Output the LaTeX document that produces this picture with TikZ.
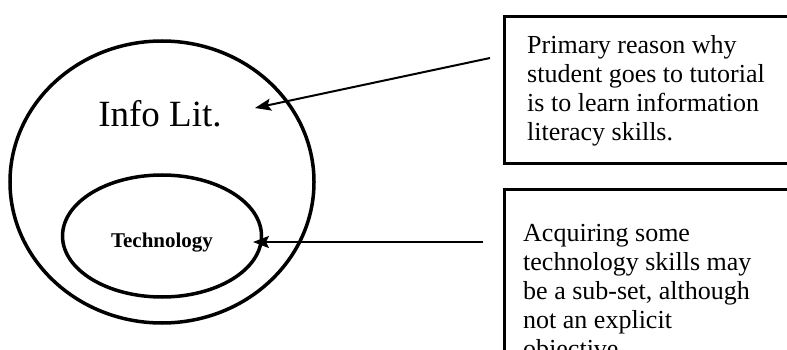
\documentclass[tikz,border=0pt]{standalone}
\usepackage{fontspec}
\setmainfont{Liberation Serif}
\usetikzlibrary{arrows.meta,positioning,shapes.geometric}

\begin{document}
\begin{tikzpicture}[x=1pt,y=-1pt,
  setline/.style={ellipse,draw,line width=3.5pt,inner sep=0pt},
  notebox/.style={rectangle,draw,line width=3pt,anchor=north west,inner sep=0pt},
  notetxt/.style={font=\fontsize{26}{29}\selectfont,align=left,
                  anchor=north west,inner sep=0pt},
  pointer/.style={-{Stealth[length=16pt,width=12pt,inset=3pt]},line width=2pt},
]
  \useasboundingbox (0,0) rectangle (787,350);
  \clip (0,0) rectangle (787,350);
  % sets
  \node[setline,minimum width=304pt,minimum height=282pt](infolit) at (162,182) {};
  \node[font=\fontsize{37}{40}\selectfont,anchor=base](infolab) at (160,127) {Info Lit.};
  \node[setline,minimum width=199pt,minimum height=122pt](tech) at (162,236) {};
  \node[font=\fontsize{21}{24}\selectfont\bfseries,anchor=base](techlab) at (162,247) {Technology};
  % notes
  \node[notebox,minimum width=320pt,minimum height=147pt](reason) at (503,15) {};
  \node[notetxt](reasontxt) at (527,35)
    {Primary reason why\\student goes to tutorial\\is to learn information\\literacy skills.};
  \node[notebox,minimum width=320pt,minimum height=200pt](subset) at (503,188) {};
  \node[notetxt](subsettxt) at (523,224)
    {Acquiring some\\technology skills may\\be a sub-set, although\\not an explicit\\objective.};
  % pointers
  \coordinate (infotip) at (255,108);
  \coordinate (techtip) at (253,242);
  \draw[pointer]([shift={(-13,43)}]reason.north west)--(infotip);
  \draw[pointer]([shift={(-20,54)}]subset.north west)--(techtip);
\end{tikzpicture}
\end{document}
